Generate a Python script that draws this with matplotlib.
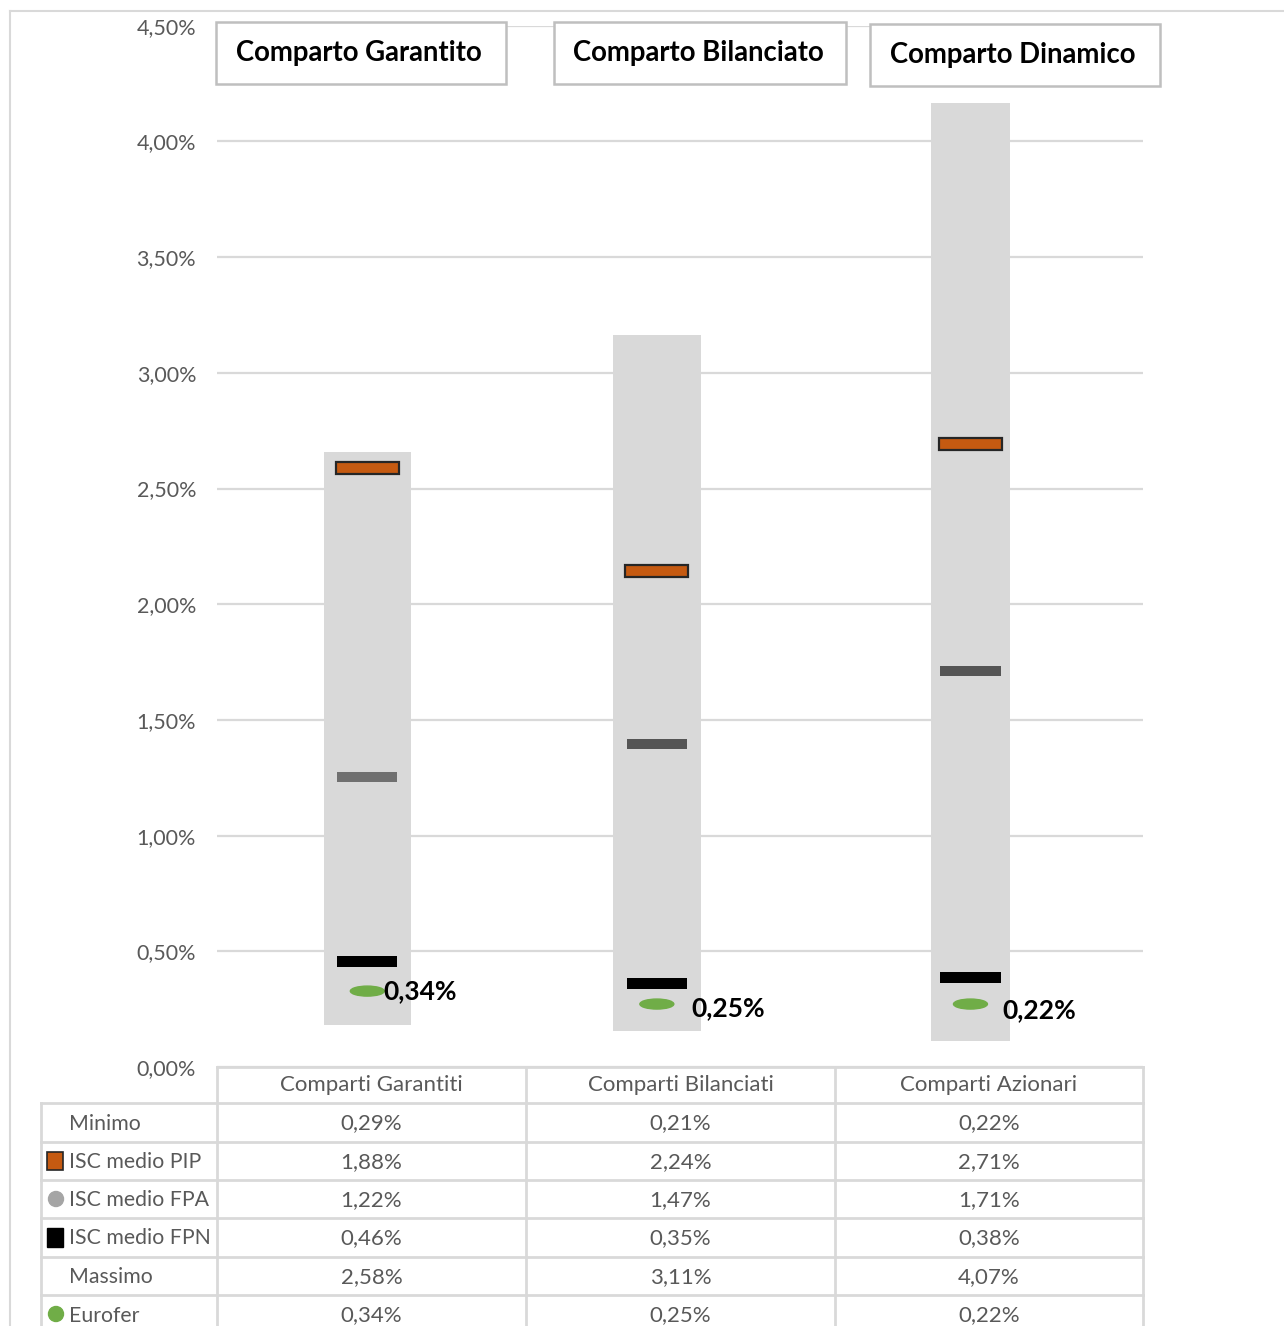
import matplotlib
matplotlib.use("Agg")
import matplotlib.pyplot as plt
from matplotlib.patches import Rectangle, Ellipse
from matplotlib.ticker import FuncFormatter

plt.rcParams['font.family'] = ['Lato', 'DejaVu Sans']

# ---------------- data ----------------
categories = ["Comparti Garantiti", "Comparti Bilanciati", "Comparti Azionari"]
titles = ["Comparto Garantito", "Comparto Bilanciato", "Comparto Dinamico"]

# values as plotted in the chart (%)
range_low = [0.18, 0.156, 0.112]
range_high = [2.658, 3.163, 4.166]
pip_plot = [2.587, 2.143, 2.692]
fpa_plot = [1.253, 1.396, 1.711]
fpn_plot = [0.454, 0.359, 0.385]
eurofer_plot = [0.328, 0.272, 0.272]
eurofer_labels = ["0,34%", "0,25%", "0,22%"]

# data table (as printed)
row_names = ["Minimo", "ISC medio PIP", "ISC medio FPA", "ISC medio FPN", "Massimo", "Eurofer"]
minimo = ["0,29%", "0,21%", "0,22%"]
isc_pip = ["1,88%", "2,24%", "2,71%"]
isc_fpa = ["1,22%", "1,47%", "1,71%"]
isc_fpn = ["0,46%", "0,35%", "0,38%"]
massimo = ["2,58%", "3,11%", "4,07%"]
eurofer = ["0,34%", "0,25%", "0,22%"]
yticks = [0, 0.5, 1.0, 1.5, 2.0, 2.5, 3.0, 3.5, 4.0, 4.5]

# ---------------- style ----------------
W, H = 1284, 1326
fig = plt.figure(figsize=(W / 100, H / 100), dpi=100)
GRID = "#d9d9d9"
TXT = "#595959"
ORANGE = "#c55a11"
GREEN = "#70ad47"

ax_l, ax_r, ax_b, ax_t = 217, 1143, 1067, 25.7
ax = fig.add_axes([ax_l / W, 1 - ax_b / H, (ax_r - ax_l) / W, (ax_b - ax_t) / H])
ax.set_xlim(-0.5, 2.5)
ax.set_ylim(0, 4.5)
for s in ax.spines.values():
    s.set_visible(False)
ax.set_xticks([])
ax.set_yticks(yticks)
ax.yaxis.set_major_formatter(FuncFormatter(lambda v, p: f"{v:.2f}%".replace(".", ",")))
ax.tick_params(axis="y", length=0, pad=15, labelsize=15.5, labelcolor=TXT)
ax.grid(axis="y", color=GRID, lw=1.6)
ax.set_axisbelow(True)

px_y = 231.4  # pixels per 1%
bar_off = [-0.013, -0.075, -0.059]
bar_w = [0.282, 0.285, 0.256]
xs = [i + o for i, o in enumerate(bar_off)]

ax.bar(xs, [h - l for h, l in zip(range_high, range_low)], bottom=range_low,
       width=bar_w, color="#d9d9d9", zorder=2)

h_pip = 12 / px_y
ax.bar(xs, [h_pip] * 3, bottom=[v - h_pip / 2 for v in pip_plot], width=0.205,
       color=ORANGE, edgecolor="#262626", lw=1.6, zorder=3)
h_fpa = 10 / px_y
ax.bar(xs, [h_fpa] * 3, bottom=[v - h_fpa / 2 for v in fpa_plot], width=0.195,
       color=["#707070", "#555555", "#555555"], zorder=3)
h_fpn = 11 / px_y
ax.bar(xs, [h_fpn] * 3, bottom=[v - h_fpn / 2 for v in fpn_plot], width=0.195,
       color="black", zorder=3)
for x, v, lab, dx, dy in zip(xs, eurofer_plot, eurofer_labels, [16, 35, 32], [0, -4, -6]):
    ax.add_patch(Ellipse((x, v), 0.11, 10 / px_y, color=GREEN, zorder=4))
    ax.annotate(lab, (x, v), xytext=(dx, dy), textcoords="offset pixels",
                ha="left", va="center", fontsize=19, fontweight="bold",
                color="black", zorder=5, annotation_clip=False)

# ---------------- overlay (pixel coords) ----------------
ov = fig.add_axes([0, 0, 1, 1], zorder=5)
ov.set_xlim(0, W)
ov.set_ylim(H, 0)
ov.axis("off")
ov.patch.set_alpha(0)

# outer frame
ov.plot([10, W], [11, 11], color=GRID, lw=1.5)
ov.plot([10, 10], [11, H], color=GRID, lw=1.5)

# title boxes
boxes = [(216, 22, 506, 84), (554, 22, 846, 84), (870, 24, 1160, 86)]
for (x0, y0, x1, y1), t in zip(boxes, titles):
    ov.add_patch(Rectangle((x0, y0), x1 - x0, y1 - y0, facecolor="white",
                           edgecolor="#bfbfbf", lw=1.8))
    ov.text((x0 + x1) / 2 - 2, (y0 + y1) / 2, t, ha="center", va="center",
            fontsize=19.8, fontweight="bold", color="black")

# data table
col_x = [217, 526, 835, 1143]
row_y = [1067, 1103, 1142, 1180, 1218, 1257, 1295, 1334]
TL = "#d9d9d9"
ov.plot([217, 1143], [1067, 1067], color=TL, lw=2)
for y in row_y[1:-1]:
    ov.plot([41, 1143], [y, y], color=TL, lw=2)
for x in col_x:
    ov.plot([x, x], [1067, H], color=TL, lw=2)
ov.plot([41, 41], [1103, H], color=TL, lw=2)

for j, c in enumerate(categories):
    ov.text((col_x[j] + col_x[j + 1]) / 2, (row_y[0] + row_y[1]) / 2, c,
            ha="center", va="center", fontsize=16, color=TXT)

rows = [minimo, isc_pip, isc_fpa, isc_fpn, massimo, eurofer]
for i, (name, vals) in enumerate(zip(row_names, rows)):
    yc = (row_y[i + 1] + row_y[i + 2]) / 2 + 1
    ov.text(69, yc, name, ha="left", va="center", fontsize=15.3, color=TXT)
    for j, v in enumerate(vals):
        ov.text((col_x[j] + col_x[j + 1]) / 2, yc, v, ha="center", va="center",
                fontsize=16, color=TXT)

# legend keys
ov.add_patch(Rectangle((47, 1152), 16, 18, facecolor=ORANGE, edgecolor="#262626", lw=1.2))
ov.add_patch(Ellipse((56, 1199), 15, 15, color="#a5a5a5"))
ov.add_patch(Rectangle((47, 1228), 16, 19, facecolor="black", edgecolor="black"))
ov.add_patch(Ellipse((56, 1314), 15, 15, color=GREEN))

fig.savefig("out.png", dpi=100)
